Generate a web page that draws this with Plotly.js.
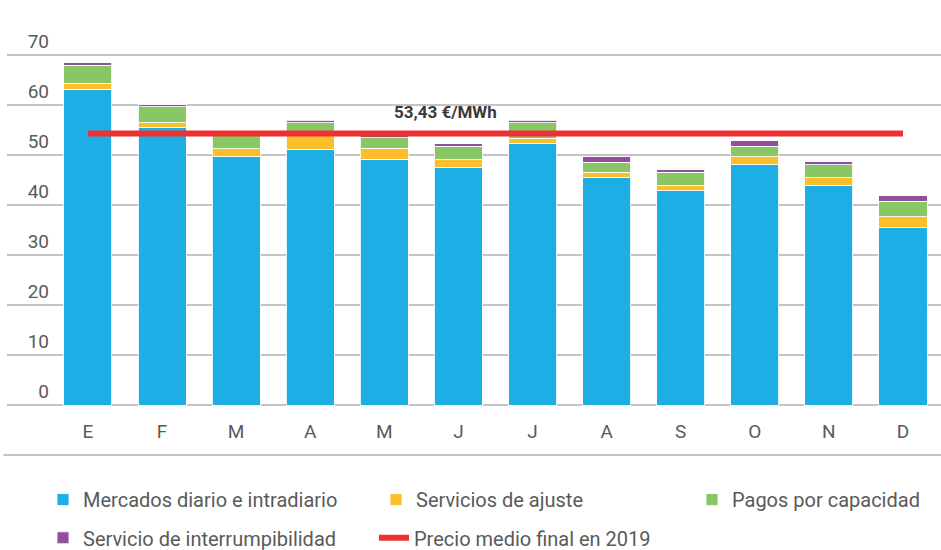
<!DOCTYPE html>
<html>
<head>
<meta charset="utf-8">
<script src="https://cdn.plot.ly/plotly-3.0.1.min.js"></script>
<style>html,body{margin:0;padding:0;background:#fff;}#chart{width:941px;height:550px;}</style>
</head>
<body>
<div id="chart"></div>
<script>
// Data (€/MWh)
const months = ['E','F','M','A','M','J','J','A','S','O','N','D'];
const mercados = [63.2, 55.5, 49.7, 51.2, 49.2, 47.5, 52.3, 45.5, 42.9, 48.1, 43.9, 35.5];
const ajuste   = [1.2, 1.0, 1.6, 3.3, 2.2, 1.6, 1.1, 1.1, 1.0, 1.6, 1.6, 2.2];
const pagos    = [3.6, 3.2, 2.6, 2.0, 2.1, 2.7, 3.1, 2.0, 2.7, 2.1, 2.6, 3.1];
const interrup = [0.5, 0.4, 0.3, 0.5, 0.6, 0.5, 0.5, 1.1, 0.5, 1.1, 0.6, 1.1];
const precioMedio = 54.3;
const precioLabel = '53,43 €/MWh';
const seriesNames = ['Mercados diario e intradiario','Servicios de ajuste','Pagos por capacidad','Servicio de interrumpibilidad','Precio medio final en 2019'];
const yTicks = [-10, 0, 10, 20, 30, 40, 50, 60, 70, 80];
const yTickText = ['', '0', '10', '20', '30', '40', '50', '60', '70', ''];
const baseLine = -10;

const idx = months.map((m, i) => i);
const colors = ['#1CAEE4', '#FDBE2B', '#88C764', '#91509C'];
const FONT = 'Roboto, "DejaVu Sans", sans-serif';
const TXT = '#5a5a5a';
const GRID = '#c4c4c4';

function barTrace(vals, name, color, legend) {
  return {
    type: 'bar', x: idx, y: vals, name: name,
    marker: {color: color, line: {color: 'rgba(255,255,255,0.85)', width: 1}},
    legend: legend, hoverinfo: 'skip'
  };
}

const data = [
  barTrace(mercados, seriesNames[0], colors[0], 'legend'),
  barTrace(ajuste, seriesNames[1], colors[1], 'legend2'),
  barTrace(pagos, seriesNames[2], colors[2], 'legend3'),
  barTrace(interrup, seriesNames[3], colors[3], 'legend4'),
  {
    type: 'scatter', mode: 'lines', name: seriesNames[4],
    x: [idx[0], idx[idx.length - 1]], y: [precioMedio, precioMedio],
    line: {color: '#EE3030', width: 6}, legend: 'legend5', hoverinfo: 'skip'
  }
];

function leg(xpx, ypx) {
  return {
    orientation: 'h', xanchor: 'left', yanchor: 'top',
    x: (xpx - 7) / 934, y: -(ypx - 455) / 450,
    font: {family: FONT, size: 20, color: TXT},
    bgcolor: 'rgba(0,0,0,0)', borderwidth: 0
  };
}

const layout = {
  width: 941, height: 550,
  margin: {l: 7, r: 0, t: 4, b: 94, autoexpand: false},
  paper_bgcolor: '#ffffff', plot_bgcolor: '#ffffff',
  barmode: 'stack', bargap: 0.352,
  showlegend: true,
  font: {family: FONT, color: TXT},
  xaxis: {
    range: [-1.093, 11.513],
    tickmode: 'array', tickvals: idx, ticktext: months,
    showgrid: false, zeroline: false, showline: false, ticks: '',
    anchor: 'free', position: 0.084,
    tickfont: {family: FONT, size: 19, color: TXT}
  },
  yaxis: {
    range: [-10.2, 80.2],
    tickmode: 'array', tickvals: yTicks, ticktext: yTickText,
    showgrid: true, gridcolor: GRID, gridwidth: 2,
    zeroline: false, showline: false, ticks: '',
    anchor: 'free', position: 0.045,
    ticklabelshift: -14,
    tickfont: {family: FONT, size: 19, color: TXT}
  },
  shapes: [{
    type: 'line', xref: 'paper', yref: 'y', x0: -0.004, x1: 1, y0: baseLine, y1: baseLine,
    line: {color: GRID, width: 2}, layer: 'below'
  }],
  legend: leg(43, 479),
  legend2: leg(376, 479),
  legend3: leg(692, 479),
  legend4: leg(43, 517),
  legend5: leg(374, 517),
  annotations: [{
    x: 4.82, y: 58.6, xref: 'x', yref: 'y',
    text: '<b>' + precioLabel + '</b>', showarrow: false,
    font: {family: FONT, size: 17, color: '#3a3a3a'}
  }]
};

Plotly.newPlot('chart', data, layout, {staticPlot: true, displayModeBar: false});
</script>
</body>
</html>
